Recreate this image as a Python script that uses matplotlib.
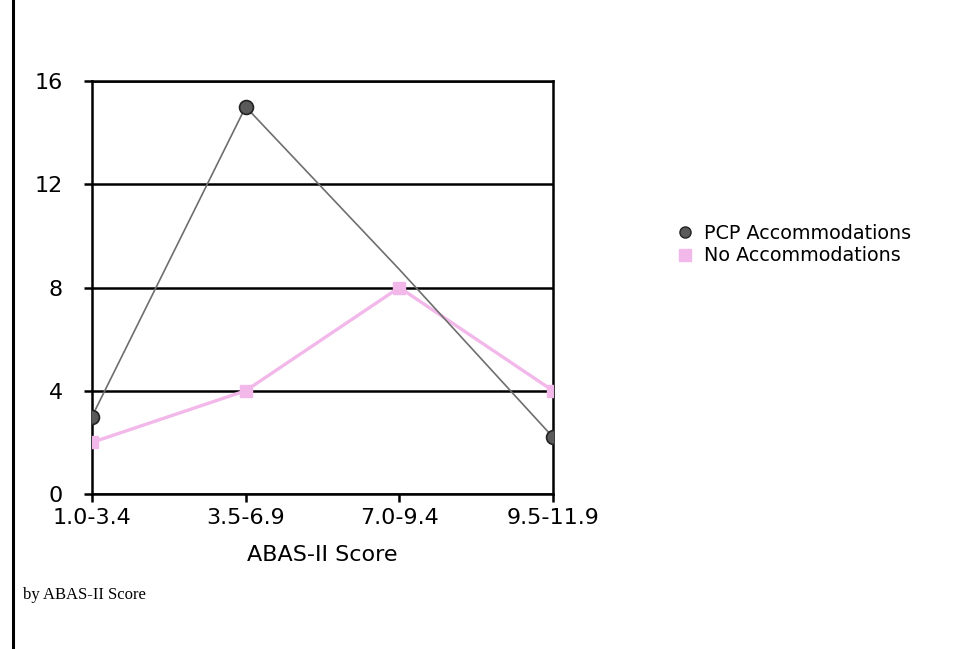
import matplotlib.pyplot as plt
from matplotlib.lines import Line2D

# datos
categorias = ['1.0-3.4', '3.5-6.9', '7.0-9.4', '9.5-11.9']
pcp = [3, 15, 8.7, 2.2]
sin_acomodo = [2, 4, 8, 4]

color_pcp = '#5a5a5a'
color_rosa = '#f3b8ea'

fig = plt.figure(figsize=(9.64, 6.49), dpi=100)
ax = fig.add_axes([0.0954, 0.2388, 0.4783, 0.6364])

x = range(len(categorias))
ax.plot(x, sin_acomodo, color=color_rosa, lw=2.4, marker='s', ms=9,
        mfc=color_rosa, mec=color_rosa, zorder=3)
ax.plot(x, pcp, color='#6e6e6e', lw=1.2, marker='o', ms=10, markevery=[0, 1, 3],
        mfc=color_pcp, mec='#222222', mew=1.2, zorder=4)

ax.set_xlim(0, 3)
ax.set_ylim(0, 16)
ax.set_xticks(list(x))
ax.set_xticklabels(categorias)
ax.set_yticks([0, 4, 8, 12, 16])
ax.yaxis.grid(True, color='black', lw=1.8)
ax.set_axisbelow(True)
for s in ax.spines.values():
    s.set_linewidth(1.8)
ax.tick_params(axis='y', direction='out', length=6, width=1.8, pad=15, labelsize=16)
ax.tick_params(axis='x', direction='out', length=6, width=1.8, pad=4, labelsize=16)

fig.text(0.334, 0.145, 'ABAS-II Score', ha='center', va='center', fontsize=16)
fig.text(0.024, 0.083, 'by ABAS-II Score', ha='left', va='center', fontsize=12,
         family='Liberation Serif')

# linea del borde izquierdo
fig.add_artist(Line2D([0.0135, 0.0135], [0, 1], color='black', lw=2.2))

manejadores = [
    Line2D([], [], ls='none', marker='o', ms=8, mfc=color_pcp, mec='#222222'),
    Line2D([], [], ls='none', marker='s', ms=8, mfc=color_rosa, mec=color_rosa),
]
fig.legend(manejadores, ['PCP Accommodations', 'No Accommodations'], loc='upper left',
           bbox_to_anchor=(0.685, 0.682), frameon=False, fontsize=13.8,
           handlelength=0.8, handletextpad=0.6, labelspacing=0.2)

plt.savefig('out.png', dpi=100)
